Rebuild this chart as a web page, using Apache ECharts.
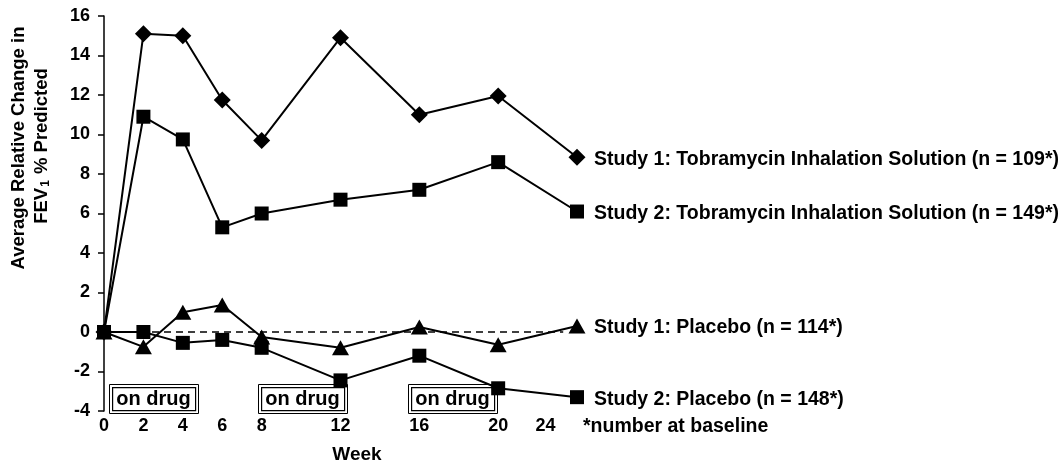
<!DOCTYPE html>
<html>
<head>
<meta charset="utf-8">
<script src="https://cdn.jsdelivr.net/npm/echarts@6/dist/echarts.min.js"></script>
<style>
html,body{margin:0;padding:0;background:#fff;}
#chart{width:1063px;height:465px;}
</style>
</head>
<body>
<div id="chart"></div>
<script>
// ---- data ----
var weeks = [0, 2, 4, 6, 8, 12, 16, 20, 24];
var study1Tobi = [0, 15.1, 15.0, 11.75, 9.7, 14.9, 11.0, 11.95, 8.85];
var study2Tobi = [0, 10.9, 9.75, 5.3, 6.0, 6.7, 7.2, 8.6, 6.1];
var study1Placebo = [0, -0.75, 1.0, 1.37, -0.25, -0.8, 0.25, -0.65, 0.3];
var study2Placebo = [0, 0.0, -0.55, -0.4, -0.8, -2.45, -1.2, -2.85, -3.3];
var baselineRef = [[0, 0], [23.3, 0]];
var tickLabels = ['0', '2', '4', '6', '8', '12', '16', '20', '24'];
var tickLabelWeeks = [0, 2, 4, 6, 8, 12, 16, 20, 22.4];
var seriesNames = [
  'Study 1: Tobramycin Inhalation Solution (n = 109*)',
  'Study 2: Tobramycin Inhalation Solution (n = 149*)',
  'Study 1: Placebo (n = 114*)',
  'Study 2: Placebo (n = 148*)'
];
var onDrugLabel = 'on drug';
var footnote = '*number at baseline';
var xTitle = 'Week';
var yTitle1 = 'Average Relative Change in';

var FONT = '"Liberation Sans", Arial, Helvetica, sans-serif';

function pairs(vals) {
  return weeks.map(function (w, i) { return [w, vals[i]]; });
}

function lineSeries(name, vals, symbol, size) {
  return {
    name: name,
    type: 'line',
    data: pairs(vals),
    symbol: symbol,
    symbolSize: size,
    clip: false,
    z: 5,
    lineStyle: { color: '#000', width: 2 },
    itemStyle: { color: '#000' },
    endLabel: {
      show: true,
      formatter: name,
      distance: 17,
      offset: [0, 2],
      color: '#000',
      fontFamily: FONT,
      fontWeight: 'bold',
      fontSize: 19.5
    },
    emphasis: { disabled: true },
    animation: false
  };
}

var chart = echarts.init(document.getElementById('chart'), null, { renderer: 'canvas' });

var boxes = [[109, 384], [258, 384], [408, 384]];
var graphics = [];
boxes.forEach(function (b) {
  graphics.push({
    type: 'rect', left: b[0], top: b[1], z: 0,
    shape: { width: 89, height: 29 },
    style: { fill: '#fff', stroke: '#000', lineWidth: 1 }
  });
  graphics.push({
    type: 'rect', left: b[0] + 3, top: b[1] + 3, z: 0,
    shape: { width: 83, height: 23 },
    style: { fill: '#fff', stroke: '#000', lineWidth: 1.2 }
  });
  graphics.push({
    type: 'text', x: b[0] + 44.5, y: b[1] + 15, z: 0,
    style: {
      text: onDrugLabel, fill: '#000', font: 'bold 20px ' + FONT,
      textAlign: 'center', textVerticalAlign: 'middle'
    }
  });
});
graphics.push({
  type: 'text', x: 583, y: 427,
  style: { text: footnote, fill: '#000', font: 'bold 19.5px ' + FONT, textAlign: 'left', textVerticalAlign: 'middle' }
});
graphics.push({
  type: 'text', x: 357, y: 455,
  style: { text: xTitle, fill: '#000', font: 'bold 19px ' + FONT, textAlign: 'center', textVerticalAlign: 'middle' }
});
graphics.push({
  type: 'text', x: 19, y: 148, rotation: Math.PI / 2,
  style: { text: yTitle1, fill: '#000', font: 'bold 18.5px ' + FONT, textAlign: 'center', textVerticalAlign: 'middle' }
});
graphics.push({
  type: 'text', x: 42, y: 146, rotation: Math.PI / 2,
  style: {
    text: 'FEV{sub|1} % Predicted', fill: '#000', font: 'bold 18.5px ' + FONT,
    textAlign: 'center', textVerticalAlign: 'middle',
    rich: { sub: { fontSize: 12, fontWeight: 'bold', fontFamily: FONT, verticalAlign: 'bottom', padding: [7, 1, 0, 1] } }
  }
});

var option = {
  backgroundColor: '#fff',
  animation: false,
  grid: { left: 104, right: 486, top: 16, bottom: 54, containLabel: false },
  xAxis: {
    type: 'value', min: 0, max: 24,
    axisLine: { show: false },
    axisTick: { show: false },
    splitLine: { show: false },
    axisLabel: {
      customValues: tickLabelWeeks,
      formatter: function (v) {
        var i = tickLabelWeeks.indexOf(v);
        return i >= 0 ? tickLabels[i] : '';
      },
      margin: 6,
      color: '#000', fontFamily: FONT, fontWeight: 'bold', fontSize: 18
    }
  },
  yAxis: {
    type: 'value', min: -4, max: 16, interval: 2,
    axisLine: { show: true, lineStyle: { color: '#000', width: 1.5 } },
    axisTick: { show: true, length: 6, lineStyle: { color: '#000', width: 1.5 } },
    splitLine: { show: false },
    axisLabel: { margin: 14, color: '#000', fontFamily: FONT, fontWeight: 'bold', fontSize: 18 }
  },
  series: [
    {
      name: 'baseline', type: 'line', data: baselineRef, symbol: 'none', z: 4,
      lineStyle: { color: '#000', width: 1.5, type: [7, 5] }, emphasis: { disabled: true }
    },
    lineSeries(seriesNames[3], study2Placebo, 'rect', 14),
    lineSeries(seriesNames[2], study1Placebo, 'triangle', [17, 15]),
    lineSeries(seriesNames[1], study2Tobi, 'rect', 14),
    lineSeries(seriesNames[0], study1Tobi, 'diamond', [17, 17])
  ],
  graphic: graphics
};
chart.setOption(option);
</script>
</body>
</html>
